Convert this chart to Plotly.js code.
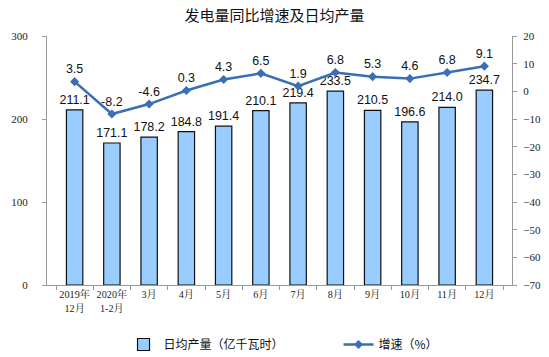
<!DOCTYPE html>
<html><head><meta charset="utf-8">
<script src="https://cdn.plot.ly/plotly-3.0.1.min.js"></script>
<style>html,body{margin:0;padding:0;background:#fff}#c{width:549px;height:357px}</style>
</head><body><div id="c"></div>
<script>
const categories = ["2019年<br>12月","2020年<br>1-2月","3月","4月","5月","6月","7月","8月","9月","10月","11月","12月"];
const dailyOutput = [211.1,171.1,178.2,184.8,191.4,210.1,219.4,233.5,210.5,196.6,214.0,234.7];
const growth = [3.5,-8.2,-4.6,0.3,4.3,6.5,1.9,6.8,5.3,4.6,6.8,9.1];
const leftTicks = [0,100,200,300];
const rightTicks = [-70,-60,-50,-40,-30,-20,-10,0,10,20];

const labelFont = {family:"Liberation Sans, Arial, sans-serif", size:12.5, color:"#111"};
const tickFont = {family:"Liberation Serif, Noto Serif CJK SC, Noto Sans CJK SC, serif", size:11, color:"#222"};
const xTickFont = {family:"Liberation Serif, Noto Serif CJK SC, Noto Sans CJK SC, serif", size:10.2, color:"#222"};

const data = [
  {type:"bar", x:categories, y:dailyOutput, name:"日均产量（亿千瓦时）",
   marker:{color:"#99CCFF", line:{color:"#111", width:1.2}},
   text:dailyOutput.map(v=>v.toFixed(1)), textposition:"outside", textfont:labelFont,
   constraintext:"none", cliponaxis:false, hoverinfo:"skip"},
  {type:"scatter", mode:"lines+markers+text", x:categories, y:growth, yaxis:"y2", name:"增速（%）",
   line:{color:"#3A6EB5", width:2.5}, marker:{symbol:"diamond", size:7, color:"#3A6EB5"},
   text:growth.map(v=>v.toFixed(1)), textposition:"top center", textfont:labelFont,
   cliponaxis:false, hoverinfo:"skip"}
];

const layout = {
  width:549, height:357,
  margin:{l:47, r:37, t:36, b:72},
  paper_bgcolor:"#fff", plot_bgcolor:"#fff",
  title:{text:"发电量同比增速及日均产量", x:0.5, xanchor:"center", y:0.955, yanchor:"middle",
         font:{family:"Noto Sans CJK SC, sans-serif", size:15, color:"#111"}},
  bargap:0.56,
  showlegend:true,
  legend:{orientation:"h", xref:"container", x:0.225, xanchor:"left", yref:"container", y:0.035, yanchor:"middle",
          font:{family:"Noto Sans CJK SC, sans-serif", size:12, color:"#111"},
          entrywidth:170, traceorder:"normal"},
  xaxis:{type:"category", showline:true, linecolor:"#999", linewidth:1, automargin:false, tickangle:0,
         ticks:"outside", ticklen:4, tickcolor:"#999", tickson:"boundaries",
         tickfont:xTickFont, showgrid:false, zeroline:false},
  yaxis:{range:[0,300], tickvals:leftTicks, showline:true, linecolor:"#999", linewidth:1, automargin:false,
         ticks:"outside", ticklen:4, tickcolor:"#999", showgrid:false, zeroline:false,
         tickfont:tickFont, ticklabelstandoff:12},
  yaxis2:{overlaying:"y", side:"right", range:[-70,20], tickvals:rightTicks, automargin:false,
          showline:true, linecolor:"#999", linewidth:1, ticks:"outside", ticklen:4, tickcolor:"#999",
          showgrid:false, zeroline:false, tickfont:tickFont, ticklabelstandoff:4}
};
Plotly.newPlot("c", data, layout, {staticPlot:true});
</script></body></html>
